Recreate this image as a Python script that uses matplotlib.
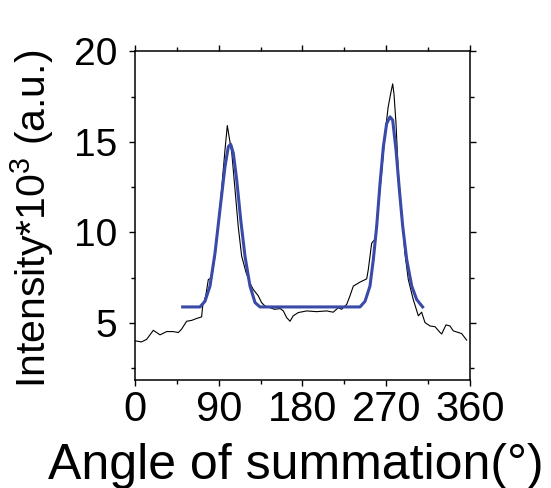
import matplotlib.pyplot as plt
from matplotlib.ticker import MultipleLocator

plt.rcParams['font.family'] = ['Liberation Sans', 'DejaVu Sans']
plt.rcParams['mathtext.fontset'] = 'custom'
plt.rcParams['mathtext.rm'] = 'Liberation Sans'

angle = [0, 7, 12.5, 19.7, 26.9, 34, 41, 46.6, 50, 55.5, 61, 66, 71.6, 72.7, 76,
         78.8, 82.4, 86, 89.5, 93, 96.7, 99.2, 101.4, 104, 107.5, 111, 114.6,
         119.3, 123.6, 127, 132.5, 136, 139.7, 145, 150, 156, 159.4, 163, 166.6,
         170, 175.5, 184.5, 195, 206, 213, 218.5, 222, 227.5, 231, 234.6, 241.8,
         249, 250.7, 254.3, 258, 261.5, 265, 268.7, 272, 274.7, 276.9, 278.3,
         280.5, 283, 286.6, 290, 293.7, 299, 304.5, 308, 311.6, 317, 322.4,
         327.8, 329.6, 334.2, 338.5, 342, 347.5, 351, 356.4]
intensity = [4.02, 3.96, 4.1, 4.6, 4.35, 4.53, 4.53, 4.48, 4.66, 5.1, 5.15, 5.25,
             5.34, 5.94, 6.5, 7.4, 7.5, 8.7, 10.5, 12.35, 14.55, 15.9, 15.2, 14.4,
             12.35, 10.3, 8.7, 7.8, 7.2, 6.86, 6.5, 6.13, 5.94, 5.85, 5.76, 5.8,
             5.67, 5.3, 5.1, 5.4, 5.58, 5.67, 5.63, 5.67, 5.6, 5.85, 5.76, 6.03,
             6.5, 7.04, 7.26, 7.44, 7.95, 9.4, 9.64, 11.4, 13.26, 15.46, 16.9,
             17.65, 18.2, 17.65, 16.0, 13.26, 11.07, 8.87, 7.4, 6.3, 5.4, 5.6,
             5.03, 4.84, 4.8, 4.48, 4.4, 4.9, 4.84, 4.57, 4.48, 4.42, 4.06]

# fitted curve (blue)
fit_angle = [51.2, 69.8, 75.2, 80.6, 86, 91.3, 96.7, 100.3, 102.8, 105.7, 109.3,
             113.6, 118.2, 123.6, 129, 134.3, 241.8, 247.2, 252.5, 256.1, 259.7,
             263.3, 266.9, 270.4, 274, 276.9, 280.5, 284.1, 287.7, 292, 297.4,
             302.7, 309.1]
fit_intensity = [5.89, 5.89, 6.2, 7.04, 8.87, 11.25, 13.63, 14.73, 14.87, 14.36,
                 12.9, 10.7, 8.69, 7.04, 6.13, 5.89, 5.89, 6.2, 7.04, 8.5, 10.33,
                 12.7, 14.73, 16.0, 16.38, 16.2, 14.55, 12.35, 10.33, 8.5, 7.04,
                 6.3, 5.89]

fig = plt.figure(figsize=(5.51, 4.88), dpi=100)
ax = fig.add_axes([0.245, 0.221, 0.608, 0.674])

ax.plot(angle, intensity, color='black', lw=0.8)
ax.plot(fit_angle, fit_intensity, color='#3a4aa8', lw=2.2)

ax.set_xlim(0, 360)
ax.set_ylim(1.85, 20)
ax.xaxis.set_major_locator(MultipleLocator(90))
ax.xaxis.set_minor_locator(MultipleLocator(45))
ax.yaxis.set_major_locator(MultipleLocator(5))
ax.yaxis.set_minor_locator(MultipleLocator(2.5))
ax.tick_params(which='both', direction='out', top=True, right=True, width=1)
ax.tick_params(which='major', length=4)
ax.tick_params(axis='y', which='major', pad=9, labelsize=28)
ax.tick_params(axis='x', which='major', pad=3, labelsize=30)
ax.tick_params(which='minor', length=3)
for s in ax.spines.values():
    s.set_linewidth(1.1)

ax.set_xlabel('Angle of summation(°)', fontsize=36, labelpad=0)
ax.xaxis.set_label_coords(0.48, -0.19, transform=ax.transAxes)
ax.xaxis.label.set_va('top')
ax.set_ylabel('Intensity*10$^3$ (a.u.)', fontsize=29.5, labelpad=4)
ax.yaxis.set_label_coords(-0.235, 0.49, transform=ax.transAxes)

fig.savefig('out.png', dpi=100)
